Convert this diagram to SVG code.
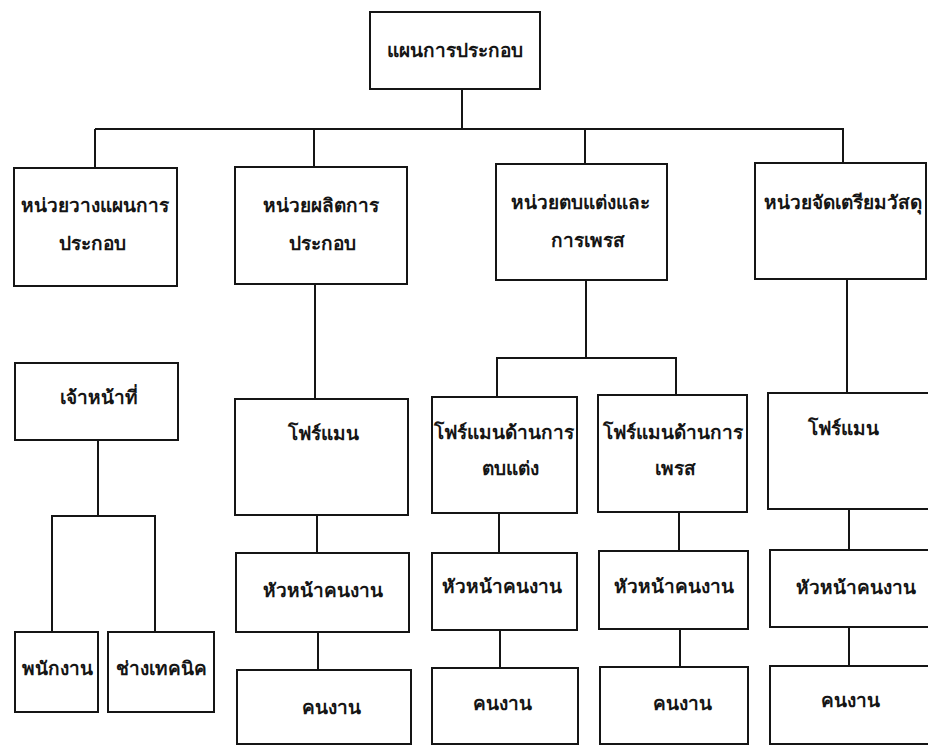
<svg xmlns="http://www.w3.org/2000/svg" width="928" height="745" viewBox="0 0 928 745">
  <style>
    .box { fill: #ffffff; stroke: #151515; stroke-width: 2; }
    .link { fill: none; stroke: #151515; stroke-width: 2; }
    text { font-family: "Noto Sans", "DejaVu Sans", "Liberation Sans", sans-serif; font-size: 19px; font-weight: bold; fill: #151515; text-anchor: middle; }
  </style>
  <rect width="928" height="745" fill="#ffffff"/>

  <!-- connectors -->
  <g id="connectors">
    <path class="link" d="M462 89 V128"/>
    <path class="link" d="M95 129 H843 M95 129 V168 M314 128 V167 M585 128 V164 M843 128 V163"/>
    <!-- planning unit -->
    <path class="link" d="M98 440 V516 M52 632 V516 H155 V632"/>
    <!-- production unit -->
    <path class="link" d="M315 284 V399 M317 515 V553 M318 632 V670"/>
    <!-- finishing and press unit -->
    <path class="link" d="M586 280 V358 M497 397 V358 H676 V395"/>
    <path class="link" d="M499 513 V553 M500 630 V668"/>
    <path class="link" d="M679 512 V551 M680 629 V667"/>
    <!-- materials unit -->
    <path class="link" d="M847 279 V393 M849 509 V550 M849 627 V666"/>
  </g>

  <g id="root">
    <rect class="box" x="370" y="12" width="170" height="77"/>
    <text x="455" y="57">แผนการประกอบ</text>
  </g>

  <g id="unit-planning">
    <rect class="box" x="14" y="168" width="163" height="118"/>
    <text x="95" y="212">หน่วยวางแผนการ</text>
    <text x="92" y="250">ประกอบ</text>
  </g>
  <g id="unit-production">
    <rect class="box" x="235" y="167" width="172" height="117"/>
    <text x="321" y="212">หน่วยผลิตการ</text>
    <text x="322" y="250">ประกอบ</text>
  </g>
  <g id="unit-finishing">
    <rect class="box" x="496" y="164" width="171" height="116"/>
    <text x="580" y="209">หน่วยตบแต่งและ</text>
    <text x="588" y="247">การเพรส</text>
  </g>
  <g id="unit-materials">
    <rect class="box" x="755" y="163" width="171" height="116"/>
    <text x="843" y="209">หน่วยจัดเตรียมวัสดุ</text>
  </g>

  <g id="officer">
    <rect class="box" x="15" y="363" width="163" height="77"/>
    <text x="99" y="404">เจ้าหน้าที่</text>
  </g>
  <g id="staff">
    <rect class="box" x="15" y="632" width="83" height="80"/>
    <text x="57" y="675">พนักงาน</text>
  </g>
  <g id="technician">
    <rect class="box" x="108" y="632" width="106" height="80"/>
    <text x="161" y="675">ช่างเทคนิค</text>
  </g>

  <g id="foreman-production">
    <rect class="box" x="235" y="399" width="173" height="116"/>
    <text x="323" y="440">โฟร์แมน</text>
  </g>
  <g id="foreman-finishing">
    <rect class="box" x="432" y="397" width="145" height="116"/>
    <text x="504" y="439">โฟร์แมนด้านการ</text>
    <text x="510" y="475">ตบแต่ง</text>
  </g>
  <g id="foreman-press">
    <rect class="box" x="598" y="395" width="149" height="117"/>
    <text x="673" y="439">โฟร์แมนด้านการ</text>
    <text x="675" y="475">เพรส</text>
  </g>
  <g id="foreman-materials">
    <rect class="box" x="768" y="393" width="162" height="116"/>
    <text x="843" y="435">โฟร์แมน</text>
  </g>

  <g id="head-production">
    <rect class="box" x="236" y="553" width="173" height="79"/>
    <text x="323" y="597">หัวหน้าคนงาน</text>
  </g>
  <g id="head-finishing">
    <rect class="box" x="432" y="553" width="145" height="77"/>
    <text x="502" y="593">หัวหน้าคนงาน</text>
  </g>
  <g id="head-press">
    <rect class="box" x="599" y="551" width="149" height="78"/>
    <text x="674" y="593">หัวหน้าคนงาน</text>
  </g>
  <g id="head-materials">
    <rect class="box" x="770" y="550" width="160" height="77"/>
    <text x="856" y="594">หัวหน้าคนงาน</text>
  </g>

  <g id="workers-production">
    <rect class="box" x="237" y="670" width="174" height="74"/>
    <text x="331" y="714">คนงาน</text>
  </g>
  <g id="workers-finishing">
    <rect class="box" x="432" y="668" width="146" height="76"/>
    <text x="502" y="710">คนงาน</text>
  </g>
  <g id="workers-press">
    <rect class="box" x="600" y="667" width="148" height="77"/>
    <text x="682" y="710">คนงาน</text>
  </g>
  <g id="workers-materials">
    <rect class="box" x="770" y="666" width="160" height="78"/>
    <text x="850" y="707">คนงาน</text>
  </g>
</svg>
